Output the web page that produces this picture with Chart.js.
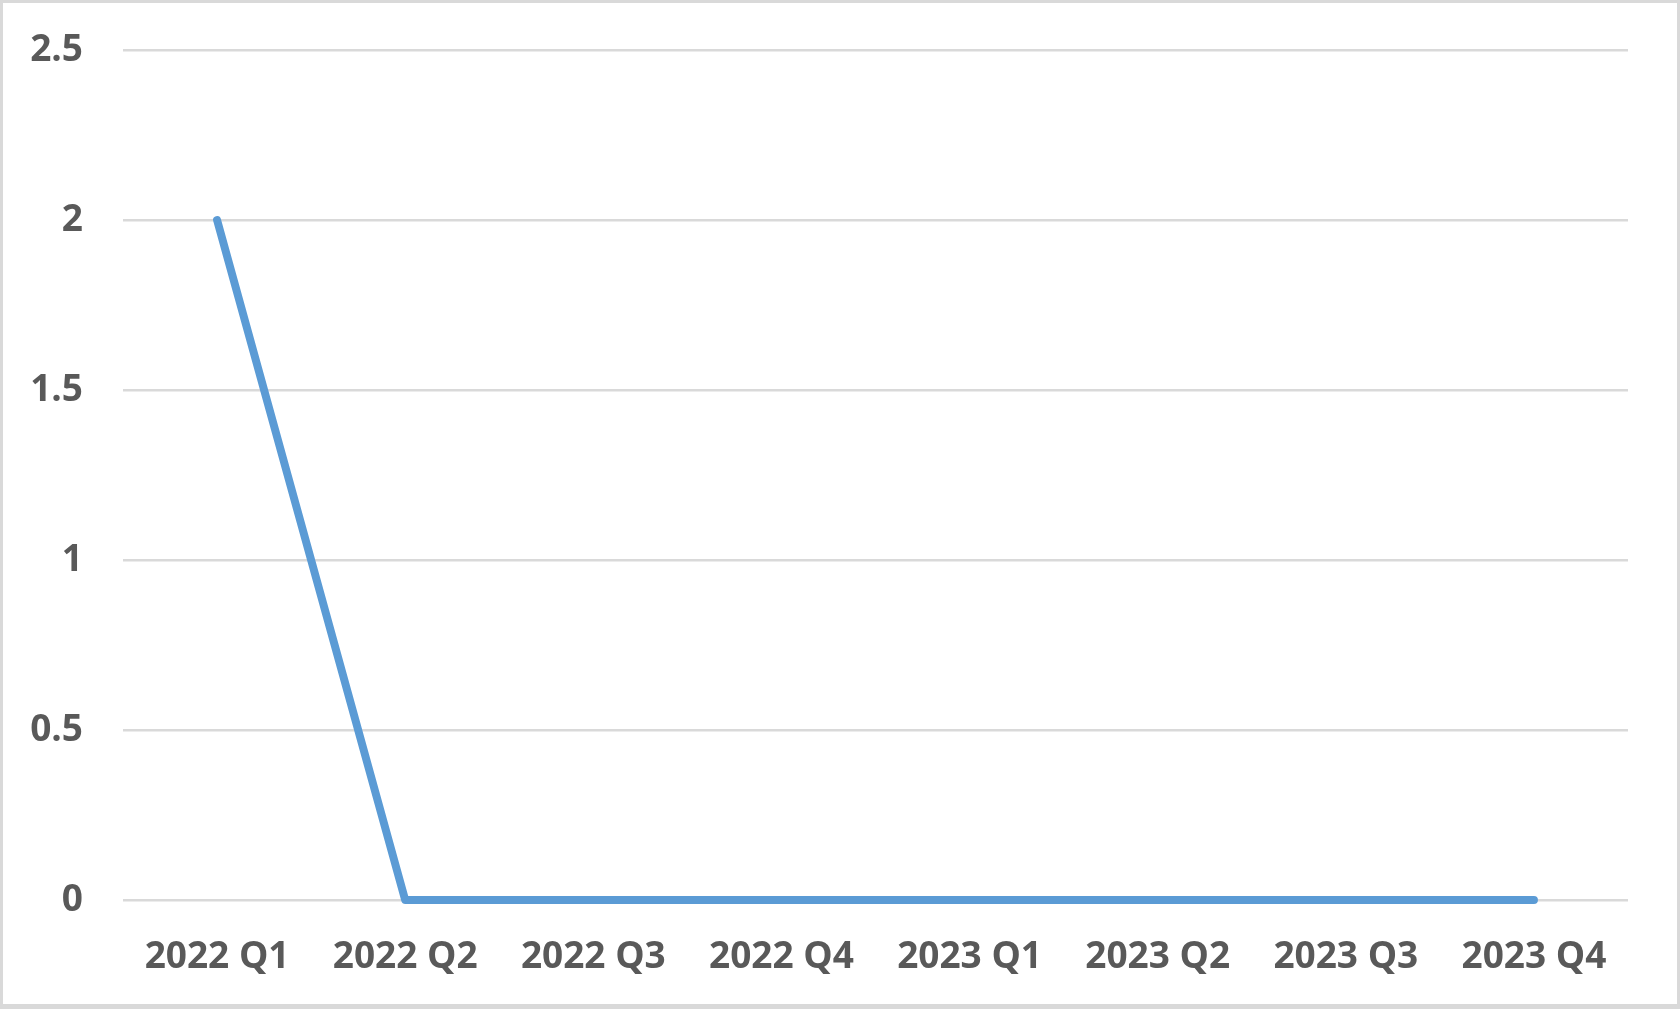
<!DOCTYPE html>
<html>
<head>
<meta charset="utf-8">
<style>
  html, body { margin: 0; padding: 0; background: #ffffff; }
  #wrap { width: 1680px; height: 1009px; box-sizing: border-box; border: 3px solid #d9d9d9; border-bottom-width: 5px; background: #fff; }
  canvas { display: block; }
</style>
<script src="https://cdn.jsdelivr.net/npm/chart.js@4/dist/chart.umd.min.js"></script>
</head>
<body>
<div id="wrap"><canvas id="c" width="1674" height="1001"></canvas></div>
<script>
// Quarterly values
const quarters = ['2022 Q1', '2022 Q2', '2022 Q3', '2022 Q4', '2023 Q1', '2023 Q2', '2023 Q3', '2023 Q4'];
const values = [2, 0, 0, 0, 0, 0, 0, 0];
const yTicks = [0, 0.5, 1, 1.5, 2, 2.5];

const tickFont = { family: '"Open Sans", sans-serif', size: 37, weight: 'bold' };

new Chart(document.getElementById('c'), {
  type: 'line',
  data: {
    labels: quarters,
    datasets: [{
      data: values,
      borderColor: '#5b9bd5',
      borderWidth: 8,
      borderCapStyle: 'round',
      borderJoinStyle: 'round',
      pointRadius: 0,
      tension: 0,
      fill: false,
      clip: false
    }]
  },
  options: {
    responsive: false,
    animation: false,
    devicePixelRatio: 1,
    layout: { padding: { top: 47, right: 49, bottom: 0, left: 0 } },
    plugins: { legend: { display: false }, tooltip: { enabled: false } },
    scales: {
      x: {
        offset: true,
        grid: { display: false, drawTicks: false },
        border: { display: false },
        ticks: { color: '#595959', font: tickFont, padding: 35, maxRotation: 0, autoSkip: false },
        afterFit: (s) => { s.height = 104; }
      },
      y: {
        min: 0,
        max: 2.5,
        afterBuildTicks: (s) => { s.ticks = yTicks.map(v => ({ value: v })); },
        grid: { color: '#d9d9d9', lineWidth: 2.5, drawTicks: false },
        border: { display: false },
        ticks: { color: '#595959', font: tickFont, padding: 40, callback: (v) => String(v) },
        afterFit: (s) => { s.width = 120; s.paddingTop = 0; s.paddingBottom = 0; }
      }
    }
  }
});
</script>
</body>
</html>
